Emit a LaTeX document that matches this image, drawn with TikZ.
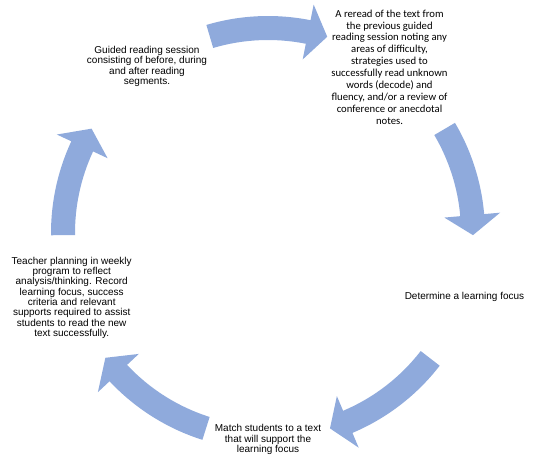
\documentclass[tikz,border=0pt]{standalone}
\usepackage{fontspec}
\setmainfont{Liberation Sans}
\newfontfamily\calib{Carlito}
\usetikzlibrary{calc}
\definecolor{arrowblue}{RGB}{143,170,220}
\newcommand\cycarrow[3]{%
  \fill[cyc] ($(c)+(#1:217pt)$) arc[start angle=#1, end angle=#3, radius=217pt]
    -- ($(c)+(#3:233pt)$) -- ($(c)+(#2:205pt)$) -- ($(c)+(#3:177pt)$)
    -- ($(c)+(#3:193pt)$) arc[start angle=#3, end angle=#1, radius=193pt] -- cycle;}
\begin{document}
\begin{tikzpicture}[x=1pt,y=1pt,
  cyc/.style={fill=arrowblue, draw=none},
  lbl/.style={align=center, inner sep=0pt, text=black, font=\fontsize{10}{10.3}\selectfont},
  lblc/.style={align=center, inner sep=0pt, text=black, font=\calib\fontsize{10.7}{11.9}\selectfont}]
\useasboundingbox (0,0) rectangle (536,467);
\coordinate (c) at (268,234);
\cycarrow{106.5}{73.2}{78.7}
\cycarrow{30.5}{-0.6}{5}
\cycarrow{-37.7}{-72.4}{-67.1}
\cycarrow{-107.6}{-142.5}{-136.9}
\cycarrow{180.6}{149.4}{155}
\node[lbl] (n1) at (147,400.5) {Guided reading session\\consisting of before, during\\and after reading\\segments.};
\node[lblc] (n2) at (389.5,400) {A reread of the text from\\the previous guided\\reading session noting any\\areas of difficulty,\\strategies used to\\successfully read unknown\\words (decode) and\\fluency, and/or a review of\\conference or anecdotal\\notes.};
\node[lbl] (n3) at (464.5,170.3) {Determine a learning focus};
\node[lbl] (n4) at (268,27.5) {Match students to a text\\that will support the\\learning focus};
\node[lbl] (n5) at (71.7,169.2) {Teacher planning in weekly\\program to reflect\\analysis/thinking. Record\\learning focus, success\\criteria and relevant\\supports required to assist\\students to read the new\\text successfully.};
\end{tikzpicture}
\end{document}
